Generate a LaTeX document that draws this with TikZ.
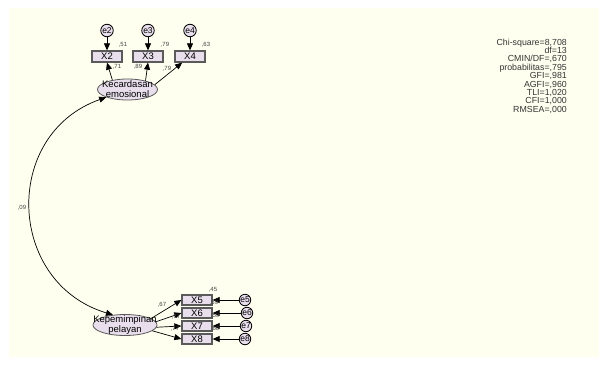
\documentclass[tikz,border=0pt]{standalone}
\usepackage{fontspec}
\setmainfont{Liberation Sans}
\usetikzlibrary{arrows.meta,shapes.geometric}
\definecolor{bg}{HTML}{FFFFF0}
\definecolor{fillv}{HTML}{E8DEEC}
\definecolor{bord}{HTML}{5A5A5A}
\begin{document}
\begin{tikzpicture}[x=1pt,y=1pt,
 obs/.style={draw=bord, line width=1.3pt, fill=fillv, minimum width=30pt, minimum height=11pt, inner sep=0pt, font=\fontsize{9.5}{9.5}\selectfont},
 lat/.style={ellipse, draw=bord, line width=0.8pt, fill=fillv, minimum width=60pt, minimum height=21pt, inner sep=0pt},
 lattext/.style={align=center, inner sep=0pt, font=\fontsize{9.5}{10}\selectfont},
 err/.style={circle, draw=black, line width=0.8pt, fill=fillv, minimum size=12.5pt, inner sep=0pt, font=\fontsize{8.5}{8.5}\selectfont},
 arr/.style={-{Triangle[length=7pt,width=6pt]}, line width=0.7pt},
 lbl/.style={font=\fontsize{6}{6}\selectfont, text=black!75, inner sep=0pt},
 stat/.style={font=\fontsize{8.8}{8.4}\selectfont, text=black!80, inner sep=0pt, align=right},
]
\useasboundingbox (0,0) rectangle (608,-365);
\fill[white] (0,0) rectangle (608,-365);
\fill[bg] (9,-8) rectangle (599,-357);

% upper block
\node[err] (e2) at (107,-30.5) {e2};
\node[err] (e3) at (148,-30.5) {e3};
\node[err] (e4) at (190,-30.5) {e4};
\node[obs] (X2) at (107,-56.5) {X2};
\node[obs] (X3) at (148,-56.5) {X3};
\node[obs] (X4) at (190,-56.5) {X4};
\node[lat] (k1) at (127.5,-89.5) {};
\node[lattext] (k1t) at (k1) {Kecardasan\\emosional};

\draw[arr] (e2) -- (X2);
\draw[arr] (e3) -- (X3);
\draw[arr] (e4) -- (X4);
\draw[arr] (k1.148) -- (X2.south);
\draw[arr] (k1.26) -- (X3.south);
\draw[arr] (k1.10) -- (X4.218);

\node[lbl] (r2) at (123,-45) {,51};
\node[lbl] (r3) at (165,-45) {,79};
\node[lbl] (r4) at (206,-45) {,63};
\node[lbl] (w2) at (117,-67) {,71};
\node[lbl] (w3) at (138,-67) {,89};
\node[lbl] (w4) at (167,-69) {,79};

% lower block
\node[lat, minimum width=64pt] (k2) at (125,-325) {};
\node[lattext] (k2t) at (k2) {Kepemimpinan\\pelayan};
\node[obs, minimum height=10pt] (X5) at (197,-300) {X5};
\node[obs, minimum height=10pt] (X6) at (197,-313) {X6};
\node[obs, minimum height=10pt] (X7) at (197,-326) {X7};
\node[obs, minimum height=10pt] (X8) at (197,-339) {X8};
\node[err, minimum size=11.5pt] (e5) at (245,-300) {e5};
\node[err, minimum size=11.5pt] (e6) at (247,-313) {e6};
\node[err, minimum size=11.5pt] (e7) at (246,-326) {e7};
\node[err, minimum size=11.5pt] (e8) at (245,-339) {e8};

\draw[arr] (e5) -- (X5);
\draw[arr] (e6) -- (X6);
\draw[arr] (e7) -- (X7);
\draw[arr] (e8) -- (X8);
\draw[arr] (k2.14) -- (X5.west);
\draw[arr] (k2.6) -- (X6.west);
\draw[arr] (k2.-4) -- (X7.west);
\draw[arr] (k2.-12) -- (X8.west);

\node[lbl] (r5) at (213,-290) {,45};
\node[lbl] (r6) at (214,-303) {,59};
\node[lbl] (r7) at (215,-316) {,59};
\node[lbl] (r8) at (215,-329) {,60};
\node[lbl] (w5) at (162,-305) {,67};
\node[lbl] (w6) at (176,-317) {,77};
\node[lbl] (w7) at (175,-329) {,77};

% covariance
\draw[{Triangle[length=7pt,width=6pt]}-{Triangle[length=7pt,width=6pt]}, line width=0.7pt]
  (k1.200) to[out=199.5,in=163.3,distance=111pt] (k2.140);
\node[lbl] (cov) at (22,-208) {,09};

% fit statistics
\node[stat, anchor=north east] (fit) at (567,-38.5) {Chi-square=8,708\\df=13\\CMIN/DF=,670\\probabilitas=,795\\GFI=,981\\AGFI=,960\\TLI=1,020\\CFI=1,000\\RMSEA=,000};
\end{tikzpicture}
\end{document}
